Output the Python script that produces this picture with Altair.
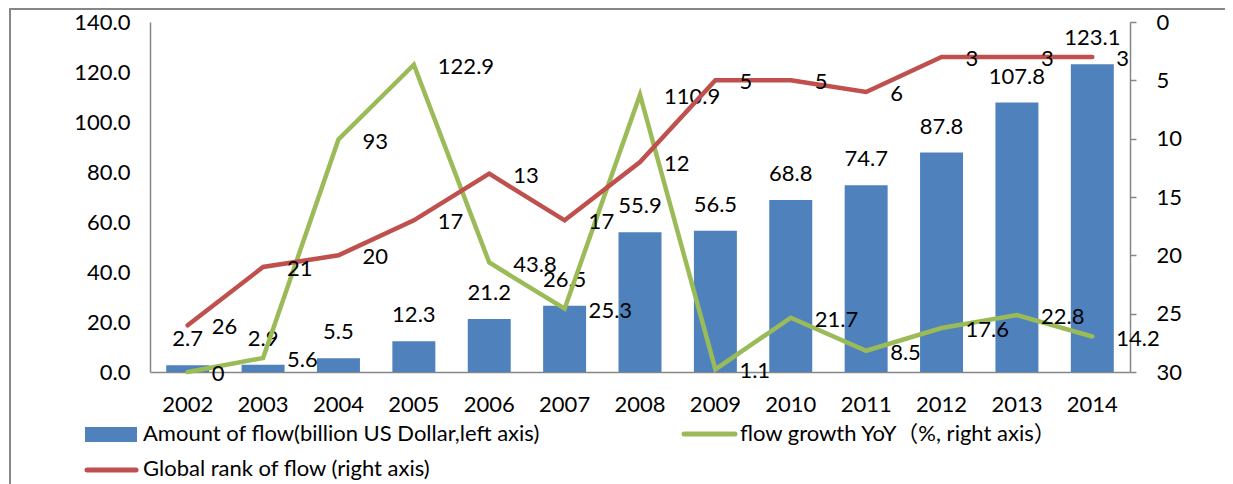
import altair as alt
import pandas as pd

years = [str(y) for y in range(2002, 2015)]
amount = [2.7, 2.9, 5.5, 12.3, 21.2, 26.5, 55.9, 56.5, 68.8, 74.7, 87.8, 107.8, 123.1]
growth = [0, 5.6, 93, 122.9, 43.8, 25.3, 110.9, 1.1, 21.7, 8.5, 17.6, 22.8, 14.2]
rank = [26, 21, 20, 17, 13, 17, 12, 5, 5, 6, 3, 3, 3]
left_ticks = [0, 20, 40, 60, 80, 100, 120, 140]
right_ticks = [0, 5, 10, 15, 20, 25, 30]
legend_labels = [
    "Amount of flow(billion US Dollar,left axis)",
    "flow growth YoY\uff08%, right axis\uff09",
    "Global rank of flow (right axis)",
]

df = pd.DataFrame({"year": years, "amount": amount, "growth": growth, "rank": rank})
one = pd.DataFrame({"k": [0]})

FONT = "Lato, 'Noto Sans CJK SC', sans-serif"
FS = 22
BLUE = "#4F81BD"
GREEN = "#9BBB59"
RED = "#C0504D"
AXIS = "#868686"

x_axis = alt.Axis(title=None, labelAngle=0, labelFontSize=FS, labelFont=FONT,
                  labelColor="black", ticks=False, domainColor=AXIS, domainWidth=1.5,
                  labelPadding=22, grid=False)
xenc = alt.X("year:N", sort=years,
             scale=alt.Scale(paddingInner=0.43, paddingOuter=0.215),
             axis=x_axis)

left_axis = alt.Axis(title=None, values=left_ticks, format=".1f", ticks=False, grid=False,
                     labelPadding=20, labelFontSize=FS, labelFont=FONT, labelColor="black",
                     domainColor=AXIS, domainWidth=1.5)
left_scale = alt.Scale(domain=[0, 140], nice=False)

right_axis = alt.Axis(title=None, orient="right", values=right_ticks, ticks=True, tickSize=6,
                      tickColor=AXIS, tickWidth=1.5, grid=False, labelPadding=20,
                      labelFontSize=FS, labelFont=FONT, labelColor="black",
                      domainColor=AXIS, domainWidth=1.5)
right_scale = alt.Scale(domain=[0, 30], reverse=True, nice=False)

base = alt.Chart(df)

bars = base.mark_bar(color=BLUE).encode(
    x=xenc, y=alt.Y("amount:Q", scale=left_scale, axis=left_axis))
bar_labels = base.mark_text(dy=-26, baseline="middle", fontSize=FS, font=FONT, color="black").encode(
    x=xenc, y=alt.Y("amount:Q", scale=left_scale, axis=left_axis),
    text=alt.Text("amount:Q", format=".1f"))
green_line = base.mark_line(color=GREEN, strokeWidth=4.5, strokeCap="round").encode(
    x=xenc, y=alt.Y("growth:Q", scale=left_scale, axis=left_axis))
green_labels = base.mark_text(align="left", dx=24, dy=2, baseline="middle", fontSize=FS,
                              font=FONT, color="black").encode(
    x=xenc, y=alt.Y("growth:Q", scale=left_scale, axis=left_axis),
    text=alt.Text("growth:Q", format=".1~f"))

left_group = alt.layer(bars, bar_labels, green_line, green_labels)

red_line = base.mark_line(color=RED, strokeWidth=4.5, strokeCap="round").encode(
    x=xenc, y=alt.Y("rank:Q", scale=right_scale, axis=right_axis))
red_labels = base.mark_text(align="left", dx=24, dy=2, baseline="middle", fontSize=FS,
                            font=FONT, color="black").encode(
    x=xenc, y=alt.Y("rank:Q", scale=right_scale, axis=right_axis),
    text=alt.Text("rank:Q", format="d"))

right_group = alt.layer(red_line, red_labels)

deco = alt.Chart(one)
frame_top = deco.mark_rule(color=AXIS, strokeWidth=2).encode(
    x=alt.value(-141), x2=alt.value(1120), y=alt.value(-13))
frame_left = deco.mark_rule(color=AXIS, strokeWidth=2).encode(
    x=alt.value(-140), y=alt.value(-14), y2=alt.value(480))
leg_rect = deco.mark_rect(color=BLUE).encode(
    x=alt.value(-65), x2=alt.value(-13), y=alt.value(405), y2=alt.value(420))
leg_text1 = deco.mark_text(text=legend_labels[0], align="left", baseline="middle",
                           fontSize=FS, font=FONT, color="black").encode(
    x=alt.value(-7), y=alt.value(412))
leg_green = deco.mark_rule(color=GREEN, strokeWidth=5, strokeCap="round").encode(
    x=alt.value(534), x2=alt.value(585), y=alt.value(412))
leg_text2 = deco.mark_text(text=legend_labels[1], align="left", baseline="middle",
                           fontSize=FS, font=FONT, color="black").encode(
    x=alt.value(590), y=alt.value(412))
leg_red = deco.mark_rule(color=RED, strokeWidth=5, strokeCap="round").encode(
    x=alt.value(-63), x2=alt.value(-14), y=alt.value(448))
leg_text3 = deco.mark_text(text=legend_labels[2], align="left", baseline="middle",
                           fontSize=FS, font=FONT, color="black").encode(
    x=alt.value(-7), y=alt.value(447))

chart = alt.layer(
    left_group, right_group,
    frame_top, frame_left, leg_rect, leg_text1, leg_green, leg_text2, leg_red, leg_text3
).resolve_scale(y="independent").properties(
    width=980, height=350,
    padding={"left": 142, "top": 14, "right": 95, "bottom": 112},
    autosize=alt.AutoSizeParams(type="none"),
    background="white",
).configure_view(stroke=None)

chart.save("out.html", embed_options={"renderer": "svg", "actions": False})
